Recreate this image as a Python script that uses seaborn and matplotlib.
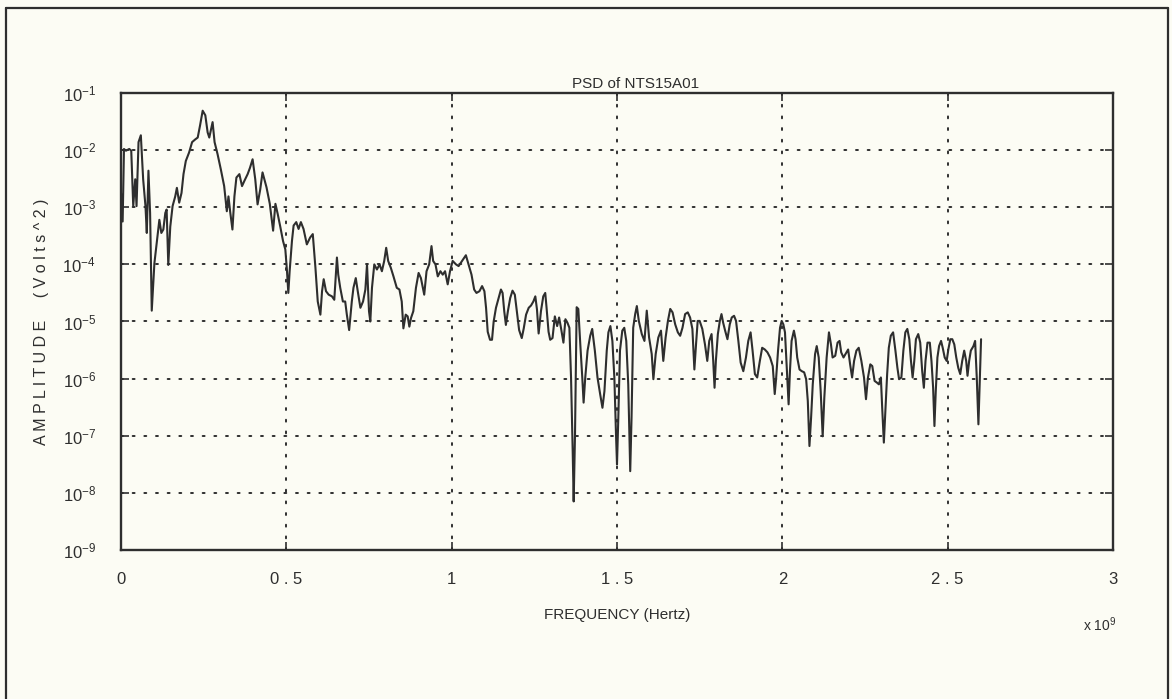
import matplotlib
matplotlib.use("Agg")
import numpy as np
import pandas as pd
import matplotlib.pyplot as plt
import seaborn as sns
from matplotlib.lines import Line2D
from matplotlib.ticker import NullLocator

# ---------------- data (frequency in units of 1e9 Hz, PSD as log10 exponent) -------------
freq_e9 = [
    0.000, 0.005, 0.009, 0.015, 0.025, 0.031, 0.037, 0.043, 0.047, 0.053, 0.060, 0.067, 0.074,
    0.078, 0.083, 0.088, 0.093, 0.101, 0.108, 0.116, 0.122, 0.128, 0.134, 0.138, 0.143, 0.149,
    0.156, 0.164, 0.169, 0.176, 0.183, 0.189, 0.196, 0.206, 0.215, 0.225, 0.232, 0.239, 0.247,
    0.255, 0.262, 0.267, 0.277, 0.283, 0.292, 0.302, 0.312, 0.320, 0.325, 0.330, 0.337, 0.343,
    0.349, 0.358, 0.366, 0.373, 0.383, 0.390, 0.398, 0.406, 0.413, 0.421, 0.428,
    0.440, 0.450, 0.460, 0.467, 0.474, 0.482, 0.490, 0.497, 0.502, 0.506, 0.510, 0.517, 0.522,
    0.530, 0.537, 0.544, 0.552, 0.562, 0.572, 0.580, 0.588, 0.595, 0.603, 0.608, 0.613, 0.620,
    0.628, 0.638, 0.645, 0.653, 0.657, 0.663, 0.671, 0.678, 0.683, 0.690, 0.698, 0.703, 0.710,
    0.716, 0.724, 0.732, 0.739, 0.744, 0.750, 0.754, 0.759, 0.766, 0.774, 0.782, 0.789, 0.796,
    0.802, 0.808, 0.816, 0.824, 0.834, 0.842, 0.849, 0.854, 0.861,
    0.867, 0.872, 0.877, 0.884, 0.892, 0.900, 0.907, 0.917, 0.924, 0.932, 0.939, 0.944, 0.951,
    0.958, 0.966, 0.973, 0.980, 0.988, 0.995, 1.003, 1.013, 1.021, 1.028, 1.035, 1.043, 1.051,
    1.060, 1.068, 1.075, 1.084, 1.092, 1.099, 1.104, 1.109, 1.116, 1.122, 1.127, 1.134, 1.142,
    1.149, 1.154, 1.159, 1.164, 1.170, 1.177, 1.184, 1.191, 1.197, 1.204, 1.212, 1.218, 1.225,
    1.233, 1.240, 1.247, 1.253, 1.258, 1.263, 1.270, 1.277, 1.283, 1.287, 1.293, 1.298, 1.305,
    1.312,
    1.319, 1.325, 1.332, 1.338, 1.344, 1.350, 1.356, 1.361, 1.366, 1.369, 1.373, 1.378, 1.383,
    1.389, 1.395, 1.399, 1.404, 1.411, 1.419, 1.425, 1.433, 1.441, 1.449, 1.456, 1.462, 1.469,
    1.474, 1.480, 1.486, 1.492, 1.497, 1.500, 1.504, 1.509, 1.516, 1.522, 1.528, 1.534, 1.540,
    1.544, 1.549, 1.555, 1.560, 1.566, 1.575, 1.583, 1.590, 1.597, 1.605, 1.610, 1.617, 1.625,
    1.633, 1.640, 1.647, 1.654, 1.661, 1.668, 1.676, 1.684, 1.691, 1.698, 1.706, 1.714, 1.721,
    1.728, 1.734, 1.739, 1.744,
    1.750, 1.758, 1.766, 1.773, 1.779, 1.786, 1.791, 1.795, 1.799, 1.805, 1.811, 1.816, 1.821,
    1.827, 1.834, 1.841, 1.847, 1.854, 1.860, 1.867, 1.874, 1.882, 1.890, 1.897, 1.904, 1.910,
    1.917, 1.924, 1.932, 1.939, 1.947, 1.955, 1.963, 1.971, 1.977, 1.981, 1.987, 1.993, 1.998,
    2.003, 2.008, 2.013, 2.019, 2.023, 2.028, 2.035, 2.040, 2.045, 2.052, 2.059, 2.066, 2.072,
    2.077, 2.082, 2.087, 2.092, 2.099, 2.104, 2.110, 2.116, 2.122, 2.127, 2.134, 2.141, 2.147,
    2.152, 2.160, 2.167, 2.173, 2.178, 2.185,
    2.191, 2.199, 2.205, 2.211, 2.217, 2.224, 2.231, 2.239, 2.247, 2.253, 2.259, 2.266, 2.272,
    2.279, 2.286, 2.292, 2.298, 2.302, 2.307, 2.312, 2.317, 2.322, 2.328, 2.335, 2.342, 2.348,
    2.353, 2.360, 2.366, 2.372, 2.378, 2.384, 2.389, 2.394, 2.399, 2.404, 2.411, 2.417, 2.423,
    2.428, 2.433, 2.439, 2.446, 2.451, 2.456, 2.460, 2.464, 2.469, 2.474, 2.480, 2.485, 2.491,
    2.497, 2.502, 2.508, 2.514, 2.520, 2.526, 2.532, 2.538, 2.544, 2.550, 2.556, 2.560, 2.565,
    2.570, 2.578, 2.583, 2.588, 2.593, 2.597, 2.601,
]

psd_log10 = [
    -2.75, -3.25, -1.98, -2.01, -1.98, -2.01, -2.98, -2.51, -2.98, -1.86, -1.74, -2.51, -2.98,
    -3.45, -2.36, -3.10, -4.81, -3.98, -3.63, -3.22, -3.45, -3.39, -3.10, -3.04, -4.01, -3.34,
    -2.98, -2.81, -2.66, -2.92, -2.75, -2.42, -2.19, -2.04, -1.86, -1.81, -1.78, -1.57, -1.31,
    -1.39, -1.69, -1.78, -1.51, -1.86, -2.07, -2.34, -2.63, -3.07, -2.81, -3.07, -3.39, -2.81,
    -2.48, -2.42, -2.63, -2.54, -2.42, -2.31, -2.16, -2.51, -2.95, -2.69, -2.39,
    -2.65, -2.94, -3.41, -2.94, -3.12, -3.35, -3.59, -3.74, -4.12, -4.50, -4.12, -3.59, -3.32,
    -3.26, -3.38, -3.26, -3.38, -3.65, -3.53, -3.47, -4.06, -4.65, -4.88, -4.47, -4.26, -4.47,
    -4.53, -4.56, -4.62, -3.88, -4.18, -4.41, -4.65, -4.65, -4.88, -5.15, -4.65, -4.41, -4.24,
    -4.47, -4.76, -4.65, -4.44, -4.00, -4.82, -5.00, -4.41, -4.00, -4.09, -4.00, -4.12, -3.94,
    -3.71, -3.94, -4.06, -4.21, -4.41, -4.44, -4.65, -5.12, -4.88,
    -4.91, -5.09, -4.94, -4.82, -4.41, -4.15, -4.24, -4.53, -4.12, -4.00, -3.68, -3.94, -4.00,
    -4.21, -4.12, -4.18, -4.12, -4.35, -4.12, -3.94, -4.00, -4.03, -3.97, -3.91, -3.84, -4.00,
    -4.18, -4.44, -4.50, -4.47, -4.38, -4.47, -4.76, -5.18, -5.32, -5.32, -5.00, -4.76, -4.59,
    -4.44, -4.50, -4.82, -5.06, -4.82, -4.59, -4.46, -4.53, -4.82, -5.15, -5.29, -5.12, -4.88,
    -4.76, -4.72, -4.65, -4.56, -4.79, -5.21, -4.82, -4.56, -4.50, -4.76, -5.18, -5.32, -5.29,
    -4.91,
    -5.08, -4.93, -5.16, -5.37, -4.96, -5.02, -5.11, -5.98, -7.27, -8.15, -6.98, -4.75, -4.78,
    -5.40, -5.98, -6.42, -5.98, -5.51, -5.25, -5.13, -5.51, -5.98, -6.27, -6.51, -6.22, -5.51,
    -5.19, -5.08, -5.34, -5.98, -6.98, -7.50, -6.68, -5.51, -5.16, -5.11, -5.34, -6.10, -7.62,
    -6.68, -5.11, -4.87, -4.73, -4.99, -5.22, -5.34, -4.81, -5.28, -5.57, -6.01, -5.57, -5.28,
    -5.16, -5.69, -5.28, -4.99, -4.78, -4.84, -5.05, -5.19, -5.25, -5.11, -4.87, -4.84, -4.93,
    -5.13, -5.84, -5.40, -4.99,
    -4.99, -5.13, -5.40, -5.69, -5.34, -5.22, -5.69, -6.16, -5.69, -5.22, -4.99, -4.87, -5.02,
    -5.16, -5.31, -5.05, -4.93, -4.90, -4.99, -5.34, -5.72, -5.87, -5.63, -5.34, -5.19, -5.51,
    -5.92, -5.98, -5.69, -5.46, -5.49, -5.54, -5.63, -5.78, -6.27, -6.01, -5.51, -5.11, -4.99,
    -5.05, -5.19, -5.75, -6.45, -5.87, -5.34, -5.16, -5.31, -5.63, -5.84, -5.87, -5.89, -6.01,
    -6.39, -7.18, -6.68, -6.10, -5.57, -5.43, -5.63, -6.22, -7.01, -6.33, -5.63, -5.19, -5.40,
    -5.63, -5.60, -5.37, -5.34, -5.54, -5.63,
    -5.57, -5.49, -5.75, -5.98, -5.69, -5.51, -5.46, -5.69, -5.98, -6.36, -5.98, -5.75, -5.78,
    -6.04, -6.07, -6.10, -5.98, -6.51, -7.12, -6.51, -5.92, -5.46, -5.25, -5.19, -5.51, -5.81,
    -6.01, -5.98, -5.51, -5.19, -5.13, -5.31, -5.69, -5.98, -5.69, -5.31, -5.22, -5.37, -5.87,
    -6.16, -5.69, -5.37, -5.37, -5.69, -6.16, -6.83, -6.22, -5.63, -5.43, -5.34, -5.46, -5.63,
    -5.69, -5.49, -5.31, -5.31, -5.40, -5.63, -5.81, -5.92, -5.69, -5.51, -5.69, -5.95, -5.69,
    -5.51, -5.43, -5.34, -5.98, -6.80, -6.04, -5.31,
]

x_ticks = [0, 0.5, 1, 1.5, 2, 2.5, 3]
x_tick_labels = ["0", "0 . 5", "1", "1 . 5", "2", "2 . 5", "3"]
y_exponents = [-9, -8, -7, -6, -5, -4, -3, -2, -1]

title_text = "PSD of NTS15A01"
x_label = "FREQUENCY (Hertz)"
y_label = "A M P L I T U D E     ( V o l t s ^ 2 )"
x_scale_text = r"x 10$^{9}$"

assert len(freq_e9) == len(psd_log10), (len(freq_e9), len(psd_log10))

# ---------------- style ----------------
sns.set_theme(style="white")
plt.rcParams["font.family"] = ["Liberation Sans", "DejaVu Sans"]
plt.rcParams["mathtext.fontset"] = "custom"
plt.rcParams["mathtext.rm"] = "Liberation Sans"
plt.rcParams["mathtext.it"] = "Liberation Sans"
plt.rcParams["mathtext.bf"] = "Liberation Sans"

bg = "#fcfcf4"
ink = "#2e2e2e"
W, H = 1172, 699

fig = plt.figure(figsize=(W / 100, H / 100), dpi=100, facecolor=bg)
ax = fig.add_axes([121 / W, 1 - 550 / H, (1113 - 121) / W, (550 - 93) / H])
ax.set_facecolor(bg)

df = pd.DataFrame({"freq": freq_e9, "psd": np.power(10.0, psd_log10)})
sns.lineplot(data=df, x="freq", y="psd", ax=ax, color=ink, linewidth=1.5,
             estimator=None, sort=False, legend=False)

ax.set_yscale("log")
ax.set_xlim(0, 3)
ax.set_ylim(1e-9, 1e-1)
ax.set_xticks(x_ticks)
ax.set_xticklabels(x_tick_labels)
ax.set_yticks([10.0 ** e for e in y_exponents])
ax.set_yticklabels([r"10$^{%d}$" % e for e in y_exponents])
ax.yaxis.set_minor_locator(NullLocator())
ax.xaxis.set_minor_locator(NullLocator())
ax.set_xlabel("")
ax.set_ylabel("")

ax.grid(True, which="major", color=ink, linestyle=(0, (1, 5)), linewidth=1.4)
for gl in ax.get_xgridlines() + ax.get_ygridlines():
    gl.set_dash_capstyle("round")

ax.tick_params(axis="both", which="major", direction="in", length=6, width=1.2,
               colors=ink, labelsize=12, top=True, right=True,
               bottom=True, left=True)
ax.tick_params(axis="y", pad=18)
ax.tick_params(axis="x", pad=16)

for sp in ax.spines.values():
    sp.set_visible(True)
    sp.set_color(ink)
    sp.set_linewidth(1.7)

# texts
fig.text(636 / W, 1 - 84 / H, title_text, ha="center", va="center", fontsize=11, color=ink)
fig.text(617 / W, 1 - 615 / H, x_label, ha="center", va="center", fontsize=11, color=ink)
fig.text(42 / W, 1 - 322 / H, y_label, ha="center", va="center", rotation=90,
         fontsize=11.5, color=ink)
fig.text(1100 / W, 1 - 625 / H, x_scale_text, ha="center", va="center", fontsize=10, color=ink)

# outer frame (open at the bottom, as in the scan)
frame_kw = dict(color=ink, linewidth=1.6, transform=fig.transFigure)
fig.add_artist(Line2D([6 / W, 1168 / W], [1 - 8 / H, 1 - 8 / H], **frame_kw))
fig.add_artist(Line2D([6 / W, 6 / W], [1 - 8 / H, 0], **frame_kw))
fig.add_artist(Line2D([1168 / W, 1168 / W], [1 - 8 / H, 0], **frame_kw))

fig.savefig("out.png", dpi=100, facecolor=bg)
